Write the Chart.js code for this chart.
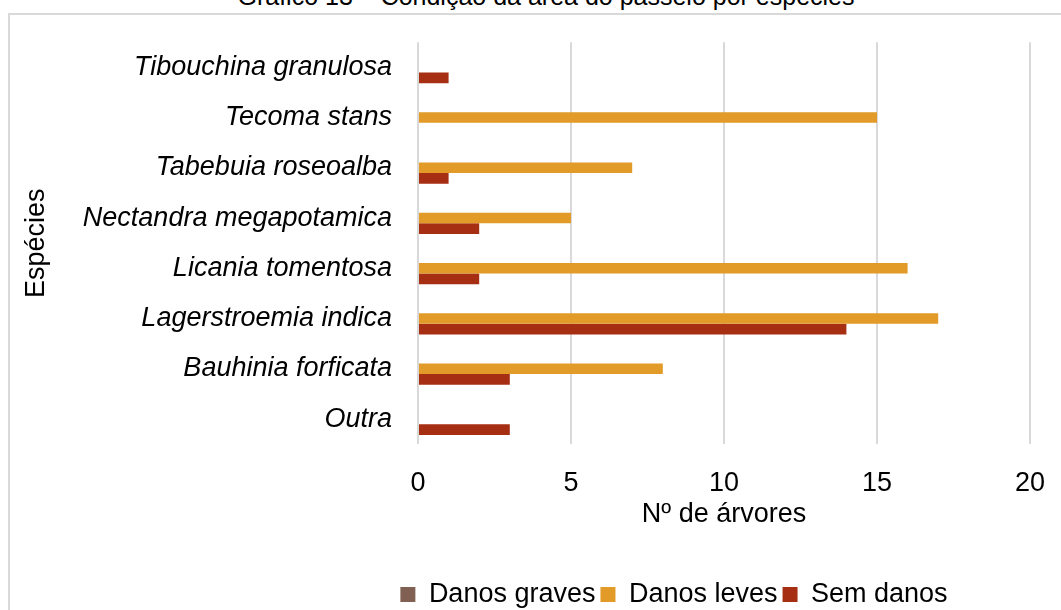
<!DOCTYPE html>
<html lang="pt">
<head>
<meta charset="utf-8">
<script src="https://cdn.jsdelivr.net/npm/chart.js@4"></script>
<style>
  html, body { margin: 0; padding: 0; background: #fff; overflow: hidden; }
  body { width: 1061px; height: 610px; position: relative; font-family: 'Liberation Sans', Arial, sans-serif; }
  .caption {
    position: absolute; left: 0; width: 1092px; top: -16px;
    text-align: center; font-size: 25px; line-height: 25px; color: #000;
  }
  .frame {
    position: absolute; left: 8px; top: 13px; width: 1330px; height: 640px;
    border: 2px solid #d9d9d9; box-sizing: border-box;
  }
  .chart-box { position: absolute; left: 0; top: 0; width: 1332px; height: 618px; }
</style>
</head>
<body>
<div class="caption">Gráfico 13 – Condição da área do passeio por espécies</div>
<div class="frame"></div>
<div class="chart-box"><canvas id="chart"></canvas></div>
<script>
const SPECIES = [
  'Tibouchina granulosa',
  'Tecoma stans',
  'Tabebuia roseoalba',
  'Nectandra megapotamica',
  'Licania tomentosa',
  'Lagerstroemia indica',
  'Bauhinia forficata',
  'Outra',
];
const DANOS_GRAVES = [0, 0, 0, 0, 0, 0, 0, 0];
const DANOS_LEVES = [0, 15, 7, 5, 16, 17, 8, 0];
const SEM_DANOS = [1, 0, 1, 2, 2, 14, 3, 3];
const X_TICKS = [0, 5, 10, 15, 20];

const FONT = "'Liberation Sans', Arial, sans-serif";

const canvas = document.getElementById('chart');
// eslint-disable-next-line no-new
new Chart(canvas.getContext('2d'), {
  type: 'bar',
  data: {
    labels: SPECIES,
    datasets: [
      { label: 'Danos graves', data: DANOS_GRAVES, backgroundColor: '#7f6052' },
      { label: 'Danos leves', data: DANOS_LEVES, backgroundColor: '#e29a28' },
      { label: 'Sem danos', data: SEM_DANOS, backgroundColor: '#a62e12' },
    ],
  },
  options: {
    indexAxis: 'y',
    responsive: true,
    maintainAspectRatio: false,
    animation: false,
    datasets: { bar: { categoryPercentage: 0.63, barPercentage: 1 } },
    layout: { padding: { top: 41, left: 16, right: 0, bottom: 0 } },
    plugins: {
      legend: {
        position: 'bottom',
        labels: {
          color: '#000',
          font: { family: FONT, size: 27 },
          boxWidth: 15,
          boxHeight: 15,
          padding: 5,
        },
      },
      tooltip: { enabled: false },
    },
    scales: {
      x: {
        min: 0,
        max: 20,
        afterBuildTicks(scale) {
          scale.ticks = X_TICKS.map((v) => ({ value: v }));
        },
        grid: { color: '#d9d9d9', lineWidth: 2, drawTicks: false },
        border: { display: false },
        ticks: { color: '#000', font: { family: FONT, size: 27 }, padding: 23 },
        title: {
          display: true,
          text: 'Nº de árvores',
          color: '#000',
          font: { family: FONT, size: 27 },
          padding: { top: -24, bottom: 45 },
        },
      },
      y: {
        afterFit(scale) {
          scale.width = 402;
        },
        grid: { display: false, drawTicks: false },
        border: { display: false },
        ticks: { color: '#000', font: { family: FONT, size: 27, style: 'italic' }, padding: 26 },
        title: {
          display: true,
          text: 'Espécies',
          color: '#000',
          font: { family: FONT, size: 27 },
        },
      },
      // empty right-hand space of the original (wider) chart, keeps legend centred on it
      yRight: {
        type: 'category',
        position: 'right',
        afterFit(scale) {
          scale.width = 302;
        },
        grid: { display: false, drawTicks: false },
        border: { display: false },
        ticks: { display: false },
      },
    },
  },
});
</script>
</body>
</html>
